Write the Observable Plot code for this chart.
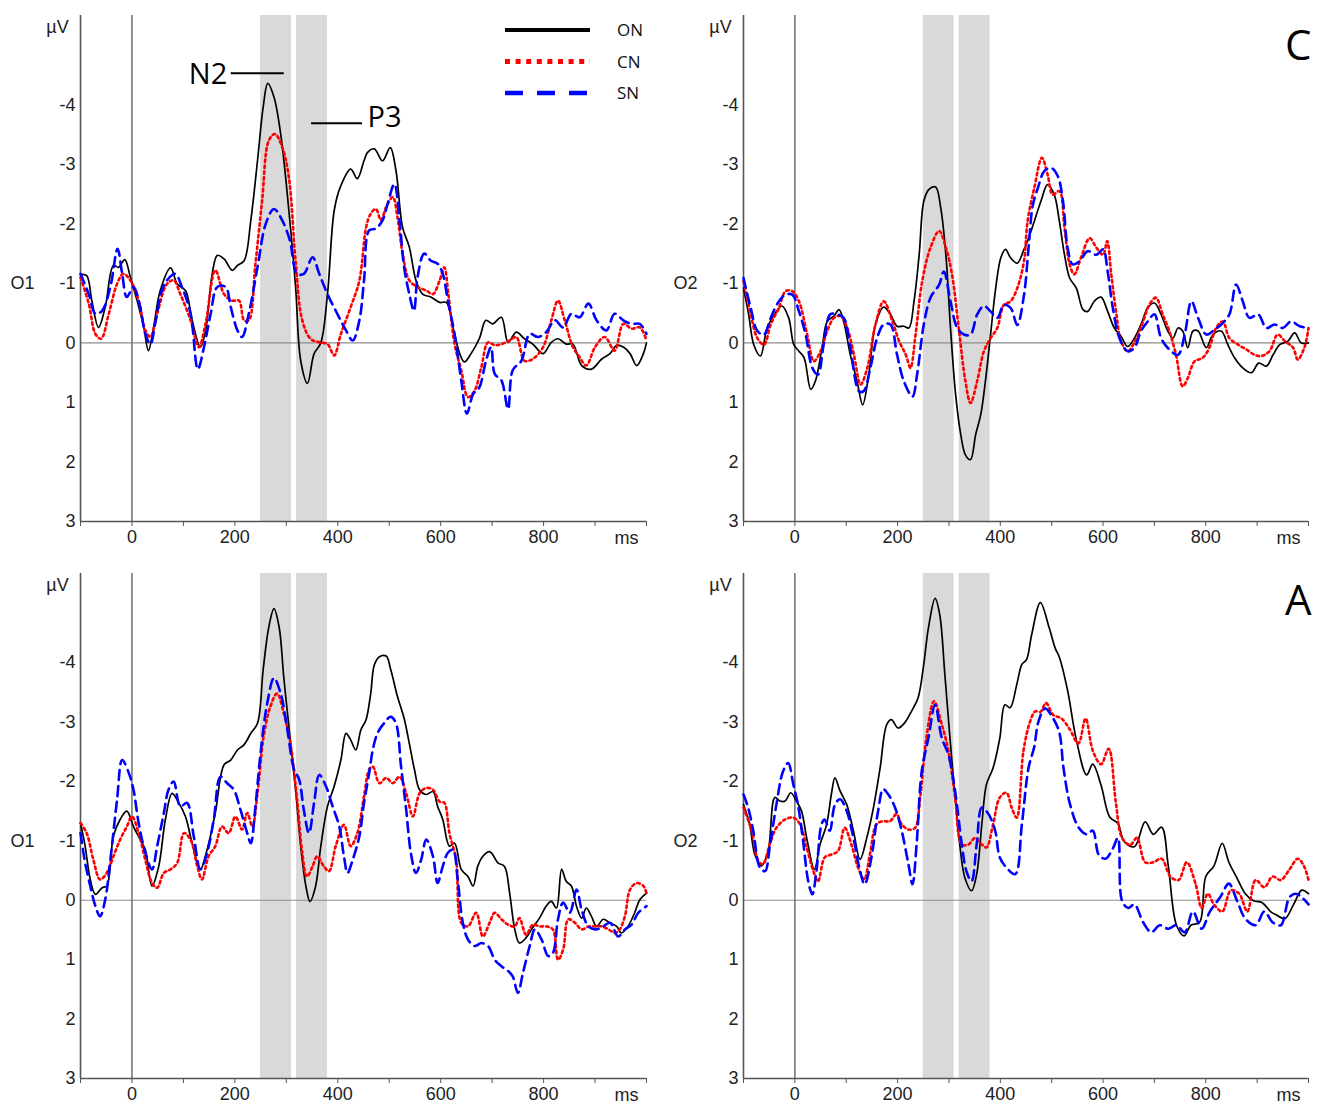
<!DOCTYPE html>
<html><head><meta charset="utf-8">
<script src="https://cdn.jsdelivr.net/npm/d3@7"></script>
<script src="https://cdn.jsdelivr.net/npm/@observablehq/plot@0.6"></script>
<style>
body{margin:0;background:#fff;}
#root{position:relative;width:1317px;height:1107px;background:#fff;overflow:hidden;}
.panel{position:absolute;}
#legend{position:absolute;left:0;top:0;}
</style></head><body><div id="root"></div>
<script>
// ---------- categories, ticks ----------
const conditions = ["ON", "CN", "SN"];
const xTicksLabeled = [0, 200, 400, 600, 800];
const xTicksMinor = [-100, 0, 100, 200, 300, 400, 500, 600, 700, 800, 900, 1000];
const yTicksLabeled = [-4, -3, -2, -1, 0, 1, 2, 3];
const xDomain = [-100, 1000];
const yDomain = [-5.5, 3];
const windows = [{from: 250, to: 310}, {from: 320, to: 380}];
const annotations = [
  {label: "N2", from: 193, to: 296, level: -4.53, side: "left"},
  {label: "P3", from: 349, to: 448, level: -3.69, side: "right"}
];

// ---------- series values [ms, µV] ----------
const TL_ON = [[-100,-1.15],[-88,-1.13],[-78,-0.71],[-65,-0.26],[-52,-0.6],[-36,-1.3],[-26,-1.27],[-14,-1.4],[-3,-1.1],[10,-0.71],[23,-0.26],[32,0.13],[42,-0.26],[55,-0.88],[75,-1.26],[88,-0.99],[104,-0.88],[117,-0.38],[133,0.07],[143,-0.2],[156,-1.16],[166,-1.47],[179,-1.41],[195,-1.22],[205,-1.3],[218,-1.38],[231,-2.06],[244,-3.06],[255,-3.96],[264,-4.36],[276,-4.13],[289,-3.51],[305,-2.22],[318,-0.94],[328,0.3],[341,0.68],[354,0.18],[367,0],[380,-0.82],[393,-2.22],[405,-2.62],[425,-2.92],[438,-2.76],[451,-3.06],[458,-3.2],[471,-3.26],[487,-3.06],[502,-3.28],[513,-2.9],[526,-1.94],[539,-1.61],[552,-1.05],[565,-0.82],[581,-0.77],[598,-0.68],[611,-0.68],[624,-0.26],[637,0.18],[646,0.32],[659,0.18],[675,-0.07],[688,-0.38],[701,-0.32],[718,-0.43],[731,-0.01],[747,-0.18],[763,-0.07],[779,0.02],[799,0.18],[815,-0.01],[828,-0.07],[844,0.02],[857,0.02],[874,0.38],[893,0.44],[913,0.27],[929,0.18],[942,0.04],[955,0.07],[968,0.18],[981,0.38],[994,0.18],[1000,0]];
const TL_CN = [[-100,-1.1],[-84,-0.66],[-71,-0.15],[-60,-0.07],[-45,-0.49],[-29,-0.99],[-17,-1.16],[-3,-1.05],[13,-0.71],[26,-0.21],[36,-0.1],[49,-0.49],[68,-0.99],[81,-1.05],[94,-0.82],[114,-0.38],[130,0.07],[143,-0.32],[162,-1.22],[179,-0.82],[195,-0.71],[208,-0.71],[218,-0.38],[227,-0.38],[240,-1.33],[253,-2.39],[266,-3.4],[278,-3.51],[292,-3.29],[305,-2.78],[318,-1.38],[331,-0.38],[347,-0.07],[364,-0.01],[380,0.02],[393,0.21],[406,-0.15],[425,-0.6],[442,-1.05],[455,-1.94],[464,-2.17],[474,-2.25],[484,-2.06],[494,-2.28],[507,-2.45],[516,-2.11],[526,-1.5],[539,-1.05],[555,-0.94],[572,-0.88],[585,-0.82],[598,-1.05],[607,-1.27],[615,-0.82],[627,0.02],[640,0.46],[653,0.91],[666,0.8],[679,0.41],[692,-0.01],[705,0.04],[718,0.02],[734,-0.04],[747,-0.1],[763,0.3],[779,0.27],[799,0.07],[815,-0.38],[828,-0.71],[841,-0.38],[857,0.07],[870,0.24],[883,0.38],[900,0.07],[919,-0.1],[938,0.13],[955,-0.32],[971,-0.24],[987,-0.26],[1000,-0.04]];
const TL_SN = [[-100,-1.16],[-84,-0.82],[-71,-0.49],[-58,-0.54],[-42,-0.94],[-28,-1.58],[-19,-1.16],[-10,-0.77],[3,-0.94],[16,-0.6],[26,-0.15],[36,0.02],[45,-0.32],[58,-0.88],[68,-1.05],[84,-1.16],[97,-0.94],[114,-0.49],[128,0.44],[140,0.07],[153,-0.49],[166,-0.94],[182,-0.94],[192,-0.6],[205,-0.21],[214,-0.1],[227,-0.49],[244,-1.27],[260,-2.0],[276,-2.25],[292,-2.06],[307,-1.72],[321,-1.16],[334,-1.16],[351,-1.44],[364,-1.16],[380,-0.82],[399,-0.49],[416,-0.21],[429,-0.04],[442,-0.38],[451,-1.05],[461,-1.89],[474,-1.92],[487,-2.06],[497,-2.34],[510,-2.67],[520,-2.06],[529,-1.27],[539,-0.82],[548,-0.54],[555,-1.1],[568,-1.5],[581,-1.38],[594,-1.33],[604,-1.16],[614,-0.71],[627,-0.15],[640,0.63],[651,1.19],[663,0.86],[675,0.75],[688,0.3],[698,0.07],[705,0.52],[718,0.63],[731,1.11],[740,0.46],[757,0.3],[773,-0.15],[789,-0.1],[805,-0.18],[822,-0.38],[838,-0.26],[854,-0.49],[870,-0.43],[887,-0.66],[903,-0.38],[922,-0.21],[938,-0.49],[955,-0.38],[971,-0.32],[987,-0.32],[1000,-0.15]];

const TR_ON = [[-100,-0.92],[-90,-0.48],[-80,0.03],[-67,0.22],[-54,-0.25],[-38,-0.5],[-25,-0.62],[-12,-0.42],[-2,0.03],[8,0.14],[18,0.25],[31,0.78],[40,0.64],[53,0.08],[63,-0.36],[76,-0.45],[86,-0.56],[95,-0.36],[108,0.2],[121,0.64],[132,1.04],[144,0.53],[157,-0.31],[173,-0.6],[186,-0.48],[199,-0.28],[212,-0.28],[222,-0.25],[232,-0.7],[242,-1.48],[251,-2.38],[261,-2.58],[274,-2.62],[284,-2.27],[294,-1.48],[303,-0.25],[313,0.87],[323,1.54],[332,1.88],[342,1.96],[352,1.54],[362,1.2],[371,0.64],[381,-0.14],[391,-0.92],[401,-1.43],[410,-1.57],[420,-1.43],[433,-1.34],[446,-1.57],[453,-1.71],[466,-2.04],[479,-2.38],[492,-2.66],[505,-2.49],[515,-2.04],[525,-1.48],[535,-1.09],[548,-0.92],[561,-0.56],[570,-0.53],[583,-0.7],[596,-0.77],[609,-0.53],[622,-0.25],[635,-0.11],[648,0.06],[661,-0.08],[674,-0.31],[687,-0.59],[700,-0.67],[713,-0.48],[726,-0.2],[736,-0.08],[746,-0.25],[755,-0.2],[765,0.08],[775,-0.2],[785,-0.2],[801,0.08],[814,-0.14],[830,-0.2],[843,0.03],[856,0.25],[872,0.42],[889,0.5],[903,0.34],[918,0.39],[931,0.2],[944,0.03],[960,-0.03],[973,-0.17],[986,0],[1000,0]];
const TR_CN = [[-100,-1.04],[-86,-0.48],[-73,-0.08],[-60,0.03],[-47,-0.31],[-31,-0.59],[-18,-0.87],[-5,-0.87],[8,-0.7],[24,-0.14],[37,0.31],[50,0.14],[63,-0.2],[76,-0.42],[89,-0.45],[102,-0.25],[115,0.2],[128,0.7],[141,0.42],[157,-0.31],[173,-0.7],[190,-0.36],[203,-0.03],[216,0.2],[225,0.42],[235,-0.14],[248,-1.04],[264,-1.6],[281,-1.88],[294,-1.6],[306,-1.15],[319,-0.25],[332,0.64],[342,1.01],[355,0.64],[368,0.14],[381,-0.08],[394,-0.25],[407,-0.64],[420,-0.7],[433,-0.92],[446,-1.37],[453,-2.04],[466,-2.6],[481,-3.11],[492,-2.83],[502,-2.49],[515,-2.55],[525,-1.93],[535,-1.32],[544,-1.15],[557,-1.43],[574,-1.76],[587,-1.6],[600,-1.48],[608,-1.71],[616,-1.15],[626,-0.48],[635,-0.03],[648,0.14],[665,-0.08],[678,-0.36],[690,-0.64],[703,-0.76],[716,-0.48],[729,-0.2],[742,0.2],[755,0.73],[765,0.59],[778,0.31],[794,0.25],[807,0.08],[820,-0.25],[833,-0.36],[846,-0.08],[863,0.03],[879,0.11],[895,0.2],[908,0.22],[924,0.14],[940,-0.14],[954,-0.03],[970,0.08],[979,0.28],[992,0.08],[1000,-0.25]];
const TR_SN = [[-100,-1.09],[-86,-0.59],[-73,-0.2],[-60,-0.14],[-47,-0.42],[-31,-0.7],[-18,-0.81],[-5,-0.81],[8,-0.53],[21,-0.14],[34,0.42],[45,0.53],[56,0.03],[69,-0.48],[82,-0.48],[95,-0.42],[108,0.08],[125,0.81],[134,0.81],[147,0.42],[160,-0.08],[173,-0.31],[186,-0.31],[199,0.2],[212,0.64],[229,0.9],[238,0.53],[251,-0.31],[264,-0.76],[281,-0.98],[290,-1.2],[303,-0.7],[316,-0.25],[329,-0.14],[342,-0.14],[355,-0.48],[368,-0.62],[381,-0.53],[394,-0.42],[407,-0.64],[420,-0.59],[433,-0.3],[446,-0.8],[455,-1.6],[463,-2.3],[473,-2.6],[486,-2.89],[499,-2.94],[512,-2.8],[522,-2.38],[531,-1.6],[541,-1.32],[554,-1.37],[570,-1.54],[587,-1.48],[600,-1.57],[609,-1.2],[619,-0.59],[632,-0.08],[648,0.14],[661,0.08],[674,-0.2],[687,-0.36],[700,-0.48],[713,-0.08],[729,0.11],[746,0.2],[759,-0.14],[772,-0.7],[785,-0.42],[801,-0.14],[814,-0.2],[830,-0.31],[846,-0.48],[859,-0.98],[872,-0.7],[885,-0.42],[902,-0.48],[918,-0.25],[934,-0.31],[950,-0.25],[966,-0.36],[983,-0.28],[1000,-0.25]];

const BL_ON = [[-100,-1.3],[-91,-0.91],[-81,-0.35],[-71,-0.1],[-58,-0.21],[-49,-0.24],[-36,-1.08],[-23,-1.36],[-10,-1.5],[3,-1.24],[16,-1.02],[26,-0.85],[39,-0.24],[52,-0.57],[65,-1.36],[78,-1.8],[91,-1.64],[104,-1.41],[117,-0.96],[133,-0.52],[146,-0.85],[162,-1.47],[179,-2.28],[192,-2.36],[205,-2.53],[218,-2.62],[231,-2.81],[244,-2.98],[255,-3.88],[266,-4.6],[276,-4.91],[286,-4.6],[295,-3.76],[305,-2.92],[318,-1.86],[328,-0.91],[338,-0.24],[346,0.02],[357,-0.24],[367,-0.91],[380,-1.58],[393,-1.92],[406,-2.36],[416,-2.81],[425,-2.7],[435,-2.53],[445,-2.87],[455,-3.04],[464,-3.48],[471,-3.96],[481,-4.1],[494,-4.11],[503,-3.88],[516,-3.43],[529,-3.06],[539,-2.64],[549,-2.2],[559,-1.86],[572,-1.78],[585,-1.83],[594,-1.58],[604,-1.36],[617,-0.91],[627,-0.96],[640,-0.52],[653,-0.4],[663,-0.24],[672,-0.57],[682,-0.74],[695,-0.82],[701,-0.77],[711,-0.63],[724,-0.57],[734,-0.12],[744,0.49],[753,0.72],[766,0.63],[779,0.46],[792,0.3],[805,0.1],[815,0.02],[825,0.13],[835,-0.52],[844,-0.32],[854,-0.24],[864,0.1],[874,0.3],[883,0.13],[893,0.27],[903,0.44],[916,0.32],[929,0.38],[942,0.44],[951,0.55],[964,0.44],[977,0.21],[987,-0.01],[1000,-0.12]];
const BL_CN = [[-100,-1.3],[-88,-1.13],[-75,-0.68],[-62,-0.35],[-49,-0.46],[-36,-0.74],[-23,-1.02],[-10,-1.24],[0,-1.41],[13,-1.13],[26,-0.68],[39,-0.29],[49,-0.21],[62,-0.46],[75,-0.52],[88,-0.63],[101,-1.13],[114,-1.02],[127,-0.57],[136,-0.35],[149,-0.74],[162,-0.91],[175,-1.24],[188,-1.13],[201,-1.41],[214,-1.19],[224,-1.47],[234,-1.24],[244,-1.8],[256,-2.76],[269,-3.26],[282,-3.48],[295,-3.15],[308,-2.64],[321,-1.69],[331,-0.8],[340,-0.4],[351,-0.57],[360,-0.74],[373,-0.57],[383,-0.49],[396,-0.91],[412,-1.27],[425,-0.91],[438,-1.13],[451,-1.75],[461,-2.2],[468,-2.25],[481,-1.97],[494,-2.06],[507,-1.97],[520,-2.08],[533,-1.8],[546,-1.41],[559,-1.8],[572,-1.89],[585,-1.86],[598,-1.66],[607,-1.64],[617,-1.13],[630,-0.68],[640,0.38],[653,0.44],[669,0.21],[682,0.61],[695,0.38],[705,0.21],[718,0.32],[731,0.41],[744,0.44],[753,0.3],[766,0.58],[779,0.41],[792,0.44],[805,0.44],[818,0.49],[828,1.0],[838,0.83],[848,0.32],[861,0.38],[874,0.49],[887,0.44],[900,0.44],[913,0.44],[926,0.49],[939,0.55],[948,0.49],[958,0.27],[968,-0.18],[981,-0.29],[994,-0.24],[1000,-0.12]];
const BL_SN = [[-100,-1.13],[-91,-0.63],[-81,-0.24],[-71,0.1],[-62,0.27],[-52,-0.01],[-42,-0.68],[-29,-1.69],[-19,-2.36],[-6,-2.14],[3,-1.86],[13,-1.3],[26,-0.8],[39,-0.52],[49,-0.91],[62,-1.47],[71,-1.86],[81,-2.0],[94,-1.58],[107,-1.64],[120,-1.08],[133,-0.52],[146,-0.8],[159,-1.36],[172,-2.08],[185,-1.97],[198,-1.86],[211,-1.52],[224,-1.13],[231,-0.96],[240,-1.58],[250,-2.48],[263,-3.32],[276,-3.74],[289,-3.48],[302,-2.87],[315,-2.2],[325,-2.03],[334,-1.52],[344,-1.13],[354,-1.64],[364,-2.11],[377,-1.92],[390,-1.58],[403,-1.24],[412,-0.74],[419,-0.46],[429,-0.68],[442,-1.08],[451,-1.64],[461,-2.14],[468,-2.53],[477,-2.81],[490,-2.98],[503,-3.09],[513,-2.98],[523,-2.25],[533,-1.52],[542,-0.8],[552,-0.46],[562,-0.68],[572,-1.02],[585,-0.74],[594,-0.29],[604,-0.57],[614,-0.8],[624,-0.85],[633,-0.35],[643,0.38],[653,0.66],[666,0.77],[679,0.72],[692,0.77],[705,1.0],[718,1.11],[731,1.19],[740,1.28],[750,1.56],[760,1.22],[773,0.77],[783,0.49],[796,0.66],[809,0.94],[818,0.89],[828,0.32],[838,0.04],[851,0.21],[864,-0.18],[874,0.16],[887,0.44],[900,0.49],[913,0.46],[929,0.38],[945,0.61],[958,0.49],[971,0.41],[984,0.21],[1000,0.1]];

const BR_ON = [[-100,-1.61],[-88,-1.28],[-78,-0.77],[-65,-0.58],[-52,-0.83],[-39,-1.73],[-29,-1.67],[-19,-1.67],[-8,-1.81],[3,-1.67],[13,-1.5],[23,-1.05],[38,-0.52],[49,-0.94],[62,-1.28],[71,-1.78],[78,-2.06],[88,-1.84],[101,-1.61],[114,-1.17],[127,-0.69],[140,-1.05],[153,-1.56],[166,-2.23],[179,-2.96],[188,-3.04],[201,-2.9],[214,-2.99],[227,-3.18],[240,-3.41],[250,-3.91],[260,-4.58],[273,-5.08],[282,-4.81],[292,-3.8],[302,-2.73],[312,-1.73],[321,-0.94],[331,-0.38],[344,-0.16],[354,-0.44],[364,-1.28],[373,-1.95],[386,-2.23],[399,-2.73],[409,-3.29],[419,-3.24],[432,-3.63],[442,-3.97],[451,-4.05],[461,-4.47],[478,-5.01],[495,-4.59],[507,-4.24],[515,-4.09],[531,-3.53],[548,-2.7],[568,-2.11],[580,-2.29],[596,-1.94],[613,-1.4],[629,-1.29],[641,-0.99],[661,-0.9],[682,-1.32],[698,-1.11],[714,-1.23],[727,-0.58],[743,0.42],[758,0.6],[771,0.42],[788,0.37],[800,-0.4],[816,-0.58],[832,-0.96],[845,-0.64],[861,-0.37],[877,-0.11],[893,0.01],[910,0.04],[926,0.19],[938,0.25],[954,0.31],[971,0.07],[987,-0.17],[1000,-0.11]];
const BR_CN = [[-100,-1.56],[-84,-1.17],[-71,-0.66],[-62,-0.61],[-49,-0.94],[-36,-1.22],[-19,-1.36],[-3,-1.39],[10,-1.28],[23,-0.89],[36,-0.49],[45,-0.32],[58,-0.72],[71,-0.77],[84,-0.83],[97,-1.22],[110,-0.94],[123,-0.55],[135,-0.35],[146,-0.77],[159,-1.28],[172,-1.33],[185,-1.33],[198,-1.45],[208,-1.28],[221,-1.19],[234,-1.22],[244,-1.73],[256,-2.73],[271,-3.35],[286,-2.96],[299,-2.51],[312,-1.73],[325,-0.94],[338,-0.94],[351,-1.05],[364,-0.94],[373,-0.89],[386,-1.28],[399,-1.73],[412,-1.81],[422,-1.56],[432,-1.39],[445,-2.51],[458,-3.01],[468,-3.18],[478,-3.17],[489,-3.32],[503,-3.12],[519,-3.06],[535,-2.88],[552,-2.64],[566,-3.06],[580,-2.52],[596,-2.29],[611,-2.55],[625,-1.64],[637,-1.05],[653,-0.93],[666,-1.05],[682,-0.64],[698,-0.64],[714,-0.7],[731,-0.4],[747,-0.34],[763,-0.64],[780,-0.28],[792,0.13],[804,-0.11],[816,0.07],[832,0.19],[849,-0.17],[865,-0.11],[881,0.19],[897,-0.34],[914,-0.22],[930,-0.4],[946,-0.34],[963,-0.52],[979,-0.7],[991,-0.58],[1000,-0.34]];
const BR_SN = [[-100,-1.78],[-91,-1.56],[-81,-1.17],[-68,-0.55],[-58,-0.49],[-49,-0.89],[-36,-1.61],[-23,-2.17],[-13,-2.31],[-3,-1.95],[6,-1.61],[16,-1.0],[26,-0.32],[34,-0.1],[42,-0.49],[52,-1.28],[58,-1.36],[68,-1.17],[78,-1.61],[88,-1.7],[101,-1.5],[114,-1.05],[127,-0.49],[136,-0.27],[149,-0.72],[162,-1.5],[172,-1.87],[182,-1.78],[195,-1.56],[208,-1.17],[221,-0.61],[229,-0.27],[237,-0.94],[247,-2.17],[260,-2.73],[273,-3.29],[286,-2.73],[299,-2.45],[312,-1.84],[325,-0.94],[334,-0.49],[344,-0.32],[354,-0.94],[364,-1.56],[377,-1.45],[390,-1.17],[399,-0.72],[412,-0.55],[429,-0.44],[442,-1.28],[455,-2.23],[466,-2.58],[474,-3.0],[487,-3.23],[503,-3.06],[515,-2.82],[523,-2.23],[535,-1.64],[552,-1.23],[568,-1.11],[580,-1.17],[592,-0.76],[605,-0.7],[619,-0.87],[629,-1.05],[637,0.01],[649,0.13],[661,0.07],[678,0.37],[694,0.54],[710,0.42],[727,0.48],[743,0.42],[759,0.54],[775,0.19],[792,0.48],[808,0.19],[828,-0.05],[845,-0.28],[861,0.01],[877,0.31],[897,0.42],[914,0.19],[930,0.37],[946,0.42],[963,-0.05],[975,-0.11],[987,-0.05],[1000,0.07]];

// ---------- styles & layout ----------
const lineStyles = {
  ON: {stroke: "#000000", strokeWidth: 1.7},
  CN: {stroke: "#ff0000", strokeWidth: 2.6, strokeDasharray: "2.6,3.2"},
  SN: {stroke: "#0000ff", strokeWidth: 2.6, strokeDasharray: "10,6"}
};
const panels = [
  {channel: "O1", letter: null, data: [TL_ON, TL_CN, TL_SN], left: 0, top: 0, width: 660, height: 555, mt: 15, mb: 34, ml: 80, mr: 14, annotate: true},
  {channel: "O2", letter: "C", data: [TR_ON, TR_CN, TR_SN], left: 660, top: 0, width: 657, height: 555, mt: 15, mb: 34, ml: 83, mr: 9},
  {channel: "O1", letter: null, data: [BL_ON, BL_CN, BL_SN], left: 0, top: 555, width: 660, height: 552, mt: 18, mb: 29, ml: 80, mr: 14},
  {channel: "O2", letter: "A", data: [BR_ON, BR_CN, BR_SN], left: 660, top: 555, width: 657, height: 552, mt: 18, mb: 29, ml: 83, mr: 9}
];

const root = document.getElementById("root");
const tickFont = "'Liberation Sans', Arial, sans-serif";
const labelFont = "'Open Sans', 'Noto Sans', sans-serif";

for (const p of panels) {
  const marks = [
    Plot.rect(windows, {x1: "from", x2: "to", fill: "#d9d9d9"}),
    Plot.ruleY([0], {stroke: "#8c8c8c", strokeWidth: 1.2}),
    Plot.ruleX([0], {stroke: "#6e6e6e", strokeWidth: 1.5}),
    Plot.ruleX([xDomain[0]], {stroke: "#555", strokeWidth: 1.6}),
    Plot.ruleY([yDomain[1]], {stroke: "#555", strokeWidth: 1.6}),
    Plot.axisY({ticks: yTicksLabeled, tickSize: 0, tickPadding: 5, tickFormat: d => String(d), label: null, fontSize: 18, fontFamily: tickFont, fill: "#222"}),
    Plot.axisX({ticks: xTicksLabeled, tickSize: 0, tickPadding: 9, tickFormat: d => String(d), fontSize: 18, fontFamily: tickFont, fill: "#222", label: null}),
    Plot.axisX({ticks: xTicksMinor, tickSize: 5, tickFormat: () => "", stroke: "#555", label: null}),
    Plot.text([p.channel], {frameAnchor: "left", textAnchor: "middle", y: () => -1, dx: -58, fontSize: 18, fontFamily: tickFont, fill: "#222"}),
    Plot.text(["µV"], {frameAnchor: "top-left", textAnchor: "middle", lineAnchor: "middle", dx: -23, dy: 12, fontSize: 18, fontFamily: tickFont, fill: "#222"}),
    Plot.text(["ms"], {frameAnchor: "bottom-right", textAnchor: "end", lineAnchor: "middle", dx: -8, dy: 17, fontSize: 18, fontFamily: tickFont, fill: "#222"})
  ];
  conditions.forEach((c, i) => {
    const rows = p.data[i].map(([t, v]) => ({t, v}));
    marks.push(Plot.line(rows, {x: "t", y: "v", curve: "catmull-rom", ...lineStyles[c]}));
  });
  if (p.annotate) {
    marks.push(Plot.ruleY(annotations, {y: "level", x1: "from", x2: "to", stroke: "#000", strokeWidth: 2}));
    marks.push(Plot.text(annotations.filter(a => a.side === "left"), {x: "from", y: "level", text: "label", textAnchor: "end", dx: -4, dy: 1, fontSize: 29, fontFamily: labelFont, fill: "#000"}));
    marks.push(Plot.text(annotations.filter(a => a.side === "right"), {x: "to", y: "level", text: "label", textAnchor: "start", dx: 5, dy: -6, fontSize: 29, fontFamily: labelFont, fill: "#000"}));
  }
  if (p.letter) {
    marks.push(Plot.text([p.letter], {frameAnchor: "top-right", textAnchor: "end", lineAnchor: "middle", dx: 3, dy: p.mt === 15 ? 31 : 28, fontSize: 42, fontFamily: labelFont, fill: "#000"}));
  }
  const svg = Plot.plot({
    width: p.width, height: p.height,
    marginTop: p.mt, marginBottom: p.mb, marginLeft: p.ml, marginRight: p.mr,
    x: {domain: xDomain, label: null},
    y: {domain: yDomain, reverse: true, label: null},
    style: {background: "transparent", overflow: "visible"},
    marks
  });
  svg.classList.add("panel");
  svg.style.left = p.left + "px";
  svg.style.top = p.top + "px";
  root.appendChild(svg);
}

// ---------- legend (top-left panel) ----------
const legendStyles = {
  ON: {stroke: "#000", width: 4, dash: null},
  CN: {stroke: "#ff0000", width: 5, dash: "5,5.6"},
  SN: {stroke: "#0000ff", width: 4.5, dash: "18,14"}
};
const lg = d3.select(root).append("svg").attr("id", "legend").attr("width", 700).attr("height", 120);
conditions.forEach((c, i) => {
  const y = 30 + i * 31.5;
  const s = legendStyles[c];
  const l = lg.append("line").attr("x1", 505).attr("x2", 590).attr("y1", y).attr("y2", y)
    .attr("stroke", s.stroke).attr("stroke-width", s.width);
  if (s.dash) l.attr("stroke-dasharray", s.dash);
  lg.append("text").attr("x", 617).attr("y", y + 6).text(c)
    .attr("font-family", labelFont).attr("font-size", 17).attr("fill", "#111");
});
</script></body></html>
